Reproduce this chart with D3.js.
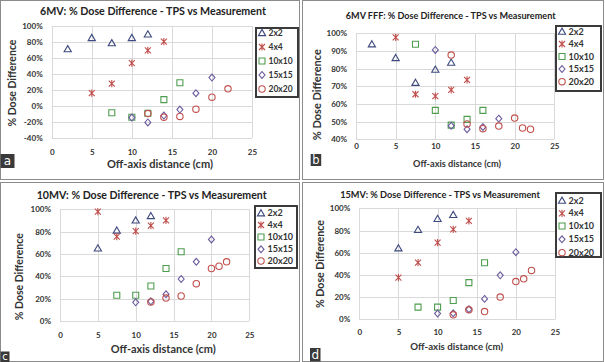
<!DOCTYPE html>
<html><head><meta charset="utf-8">
<script src="https://cdn.jsdelivr.net/npm/d3@7"></script>
<style>
body{margin:0;background:#fff;overflow:hidden}
svg{display:block}
text{font-family:Lato,"Open Sans",sans-serif;}
</style>
</head><body>
<svg id="chart" width="605" height="362"></svg>
<script>
// ---------- DATA ----------
const seriesNames = ["2x2", "4x4", "10x10", "15x15", "20x20"];
const panelTitles = [
  "6MV: % Dose Difference - TPS vs Measurement",
  "6MV FFF: % Dose Difference - TPS vs Measurement",
  "10MV: % Dose Difference - TPS vs Measurement",
  "15MV: % Dose Difference - TPS vs Measurement"
];
const panelLetters = ["a", "b", "c", "d"];
const xAxisTitle = "Off-axis distance (cm)";
const yAxisTitle = "% Dose Difference";
const xTicks = [0, 5, 10, 15, 20, 25];
const yTicksA = [-40, -20, 0, 20, 40, 60, 80, 100];
const yTicksB = [40, 50, 60, 70, 80, 90, 100];
const yTicksC = [0, 20, 40, 60, 80, 100];
const yTicksD = [0, 20, 40, 60, 80, 100];

// panel a: 6MV  [off-axis cm, % difference]
const a2x2   = [[2, 71], [5, 85], [7.5, 78.5], [10, 85], [12, 89.5]];
const a4x4   = [[5, 16], [7.5, 28], [10, 53.5], [12, 69.5], [14, 80.5]];
const a10x10 = [[7.5, -8.5], [10, -14], [12, -9], [14, 8], [16, 29]];
const a15x15 = [[10, -14.5], [12, -20.5], [14, -12], [16, -4.5], [18, 16], [20, 35.5]];
const a20x20 = [[12, -9.5], [14, -14], [16, -13], [18, -4], [20, 11], [22, 21.5]];

// panel b: 6MV FFF
const b2x2   = [[2, 93.8], [5, 86], [7.5, 72], [10, 79.4], [12, 83.4]];
const b4x4   = [[5, 97.7], [7.5, 65.5], [10, 64.5], [12, 68], [14, 73.6]];
const b10x10 = [[7.5, 93.8], [10, 56.4], [12, 48], [14, 51.3], [16, 56.4]];
const b15x15 = [[10, 90.6], [12, 47.6], [14, 45.7], [16, 47], [18, 51.7]];
const b20x20 = [[12, 87.7], [14, 48.7], [16, 46], [18, 47.5], [20, 52], [21, 46.4], [22, 45.7]];

// panel c: 10MV
const c2x2   = [[5, 65], [7.5, 81], [10, 90], [12, 94]];
const c4x4   = [[5, 98], [7.5, 75.5], [10, 80.5], [12, 85.4], [14, 90]];
const c10x10 = [[7.5, 23], [10, 23], [12, 31.3], [14, 47], [16, 62]];
const c15x15 = [[10, 16.7], [12, 17.6], [14, 24], [16, 37.6], [18, 53], [20, 73]];
const c20x20 = [[12, 17], [14, 20.5], [16, 22.4], [18, 33.4], [20, 47], [21, 49], [22, 53]];

// panel d: 15MV
const d2x2   = [[5, 64], [7.5, 80.5], [10, 90.5], [12, 94]];
const d4x4   = [[5, 37.5], [7.5, 51], [10, 69], [12, 81], [14, 88.6]];
const d10x10 = [[7.5, 11], [10, 11], [12, 17], [14, 33], [16, 51]];
const d15x15 = [[10, 5.2], [12, 5.4], [14, 9], [16, 18.4], [18, 39.6], [20, 60.5]];
const d20x20 = [[12, 4], [14, 8.5], [16, 7], [18, 20], [20, 34], [21, 36.5], [22, 44]];

// ---------- STYLE / LAYOUT ----------
const colors = ["#3e4a7e", "#c0504d", "#4f9d4f", "#6a5a9c", "#c0504d"];
const shapes = ["triangle", "star", "square", "diamond", "circle"];

const panels = [
  { data: [a2x2, a4x4, a10x10, a15x15, a20x20], yTicks: yTicksA, yDom: [-40, 100],
    box: [0.5, 0.5, 299, 179],
    px: [51.7, 252], py: [138, 26],
    title: [153, 11, 226], xtY: 152, xTitle: [160, 164.5, 106], yTitle: [12, 83, 87],
    leg: [256, 28, 42, 69], legRows: [33, 47, 61, 75, 89], legFs: 8.5,
    lab: [0.5, 154, 14, 14] },
  { data: [b2x2, b4x4, b10x10, b15x15, b20x20], yTicks: yTicksB, yDom: [40, 100],
    box: [302.5, 0.5, 301, 179],
    px: [356, 554.3], py: [139.3, 33.3],
    title: [450.7, 15.7, 210], xtY: 145.7, xTitle: [457, 163.3, 88], yTitle: [316.7, 94.7, 91],
    leg: [556, 26, 45, 65], legRows: [31.7, 44, 56.5, 69, 81.7], legFs: 9,
    lab: [310.7, 154, 10.5, 12] },
  { data: [c2x2, c4x4, c10x10, c15x15, c20x20], yTicks: yTicksC, yDom: [0, 100],
    box: [0.5, 182.5, 299, 179],
    px: [60, 249.3], py: [321, 209.3],
    title: [151.7, 195.7, 230], xtY: 335, xTitle: [163.3, 349.3, 105], yTitle: [19.3, 276.7, 87],
    leg: [255, 206, 42, 62], legRows: [213.3, 225, 237, 249.3, 261], legFs: 9,
    lab: [0.5, 351.5, 9, 10.5] },
  { data: [d2x2, d4x4, d10x10, d15x15, d20x20], yTicks: yTicksD, yDom: [0, 100],
    box: [302.5, 182.5, 301, 179],
    px: [359.3, 555], py: [319.3, 208.3],
    title: [440, 195, 200], xtY: 331.7, xTitle: [456.7, 346.7, 93], yTitle: [320, 264, 88],
    leg: [556, 193, 45, 64], legRows: [200.7, 213.3, 226, 239.3, 252.7], legFs: 9,
    lab: [310, 348, 10.5, 13.5] }
];

function markerPath(shape) {
  switch (shape) {
    case "triangle": return "M0,-3.6L3.6,2.6L-3.6,2.6Z";
    case "square": return "M-3,-3H3V3H-3Z";
    case "diamond": return "M0,-3.4L3,0L0,3.4L-3,0Z";
    case "circle": return "M3.2,0A3.2,3.2 0 1,1 -3.2,0A3.2,3.2 0 1,1 3.2,0Z";
    case "star": return "M-3,-3L3,3M-3,3L3,-3M0,-3.6V3.6";
  }
}

function fitText(sel, w) {
  sel.each(function () {
    const fs = parseFloat(this.getAttribute("font-size"));
    const len = this.getComputedTextLength();
    if (len > 0) this.setAttribute("font-size", (fs * w / len).toFixed(2));
  });
}

const svg = d3.select("#chart");
svg.append("rect").attr("width", 605).attr("height", 362).attr("fill", "#fff");

const frameLayer = svg.append("g");
const plotLayer = svg.append("g");
const legendLayer = svg.append("g");

panels.forEach(p => {
  frameLayer.append("rect").attr("x", p.box[0]).attr("y", p.box[1]).attr("width", p.box[2]).attr("height", p.box[3])
    .attr("fill", "none").attr("stroke", "#8c8c8c").attr("stroke-width", 1);
});

panels.forEach((p, pi) => {
  const g = plotLayer.append("g");

  const x = d3.scaleLinear().domain([0, 25]).range(p.px);
  const y = d3.scaleLinear().domain(p.yDom).range(p.py);

  // gridlines
  g.append("g").selectAll("line").data(p.yTicks).join("line")
    .attr("x1", p.px[0]).attr("x2", p.px[1])
    .attr("y1", d => Math.round(y(d)) + 0.5).attr("y2", d => Math.round(y(d)) + 0.5)
    .attr("stroke", "#d9d9d9").attr("stroke-width", 1);
  g.append("g").selectAll("line").data(xTicks).join("line")
    .attr("y1", p.py[0]).attr("y2", p.py[1])
    .attr("x1", d => Math.round(x(d)) + 0.5).attr("x2", d => Math.round(x(d)) + 0.5)
    .attr("stroke", "#d9d9d9").attr("stroke-width", 1);

  // axes
  const xAxis = d3.axisBottom(x).tickValues(xTicks).tickSize(0).tickPadding(0).tickFormat(d3.format("d"));
  const xg = g.append("g").attr("transform", `translate(0,${p.xtY})`).call(xAxis);
  xg.select(".domain").remove();
  xg.selectAll("text").attr("dy", "0.35em").attr("font-size", 8).attr("font-weight", "bold")
    .attr("fill", "#333").style("font-family", "Lato, sans-serif");

  const yAxis = d3.axisLeft(y).tickValues(p.yTicks).tickSize(0).tickPadding(9).tickFormat(d => d + "%");
  const yg = g.append("g").attr("transform", `translate(${p.px[0]},0)`).call(yAxis);
  yg.select(".domain").remove();
  yg.selectAll("text").attr("font-size", 8).attr("font-weight", "bold")
    .attr("fill", "#333").style("font-family", "Lato, sans-serif");

  // titles
  const t = g.append("text").attr("x", p.title[0]).attr("y", p.title[1]).attr("dy", "0.35em")
    .attr("text-anchor", "middle").attr("font-size", 10).attr("font-weight", "bold").attr("fill", "#222")
    .text(panelTitles[pi]);
  fitText(t, p.title[2]);
  const xt = g.append("text").attr("x", p.xTitle[0]).attr("y", p.xTitle[1]).attr("dy", "0.35em")
    .attr("text-anchor", "middle").attr("font-size", 10).attr("font-weight", "bold").attr("fill", "#333")
    .text(xAxisTitle);
  fitText(xt, p.xTitle[2]);
  const yt = g.append("text").attr("transform", `translate(${p.yTitle[0]},${p.yTitle[1]}) rotate(-90)`)
    .attr("dy", "0.35em").attr("text-anchor", "middle").attr("font-size", 10).attr("font-weight", "bold")
    .attr("fill", "#333").text(yAxisTitle);
  fitText(yt, p.yTitle[2]);

  // series
  p.data.forEach((series, si) => {
    g.append("g").selectAll("path").data(series).join("path")
      .attr("transform", d => `translate(${x(d[0])},${y(d[1])})`)
      .attr("d", markerPath(shapes[si]))
      .attr("fill", "none").attr("stroke", colors[si]).attr("stroke-width", 1.1);
  });

  // panel letter
  g.append("rect").attr("x", p.lab[0]).attr("y", p.lab[1]).attr("width", p.lab[2]).attr("height", p.lab[3])
    .attr("fill", "#3a3a3a");
  g.append("text").attr("x", p.lab[0] + p.lab[2] / 2).attr("y", p.lab[1] + p.lab[3] / 2).attr("dy", "0.35em")
    .attr("text-anchor", "middle").attr("font-size", Math.min(p.lab[3] * 0.95, 12)).attr("fill", "#fff")
    .style("font-family", "'DejaVu Sans', sans-serif")
    .text(panelLetters[pi]);
});

// legends on top; frame built from four filled bars (2px thick)
panels.forEach(p => {
  const lg = legendLayer.append("g");
  const [lx, ly, lw, lh] = p.leg;
  const bars = [[lx - 1, ly - 1, lw + 2, 2], [lx - 1, ly + lh - 1, lw + 2, 2],
                [lx - 1, ly - 1, 2, lh + 2], [lx + lw - 1, ly - 1, 2, lh + 2]];
  lg.selectAll("rect").data(bars).join("rect")
    .attr("x", d => d[0]).attr("y", d => d[1]).attr("width", d => d[2]).attr("height", d => d[3])
    .attr("fill", "#3a3a3a");
  seriesNames.forEach((n, si) => {
    lg.append("path").attr("transform", `translate(${lx + 6},${p.legRows[si]})`)
      .attr("d", markerPath(shapes[si])).attr("fill", "none").attr("stroke", colors[si]).attr("stroke-width", 1.1);
    lg.append("text").attr("x", lx + 12.5).attr("y", p.legRows[si]).attr("dy", "0.35em")
      .attr("font-size", p.legFs).attr("font-weight", "bold").attr("fill", "#333").text(n);
  });
});
</script>
</body></html>
